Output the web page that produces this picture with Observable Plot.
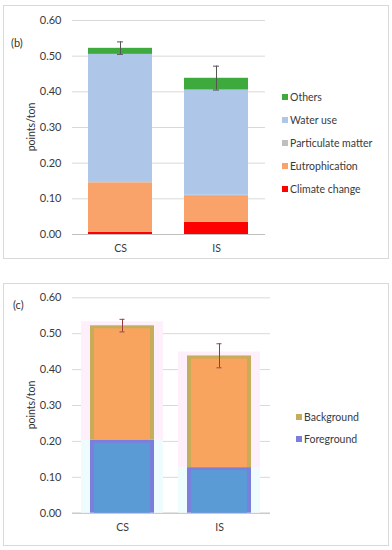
<!DOCTYPE html>
<html>
<head>
<meta charset="utf-8">
<script src="https://cdn.jsdelivr.net/npm/d3@7"></script>
<script src="https://cdn.jsdelivr.net/npm/@observablehq/plot@0.6"></script>
<style>
  html, body { margin: 0; padding: 0; background: #fff; }
  #wrap { position: relative; width: 392px; height: 550px; font-family: Lato, "Open Sans", sans-serif; color: #404040; overflow: hidden; }
  .box { position: absolute; border: 1px solid #d9d9d9; box-sizing: border-box; }
  .plot { position: absolute; left: 0; }
  .tag { position: absolute; font-size: 11px; color: #333; }
  .ylab { position: absolute; font-size: 10.5px; color: #333; transform: translate(-50%, -50%) rotate(-90deg); white-space: nowrap; }
  .legend { position: absolute; font-size: 10.5px; color: #3a3a3a; }
  .legend div { position: absolute; white-space: nowrap; line-height: 12px; }
  .legend span { display: inline-block; width: 6px; height: 6px; margin-right: 2px; vertical-align: 1px; }
</style>
</head>
<body>
<div id="wrap">
  <div class="box" style="left:3px;top:5px;width:386px;height:254px"></div>
  <div class="box" style="left:3px;top:283px;width:386px;height:263px"></div>
  <div id="pb" class="plot" style="top:0px"></div>
  <div id="pc" class="plot" style="top:270px"></div>
  <div class="tag" style="left:11px;top:36px">(b)</div>
  <div class="tag" style="left:13px;top:298px">(c)</div>
  <div class="ylab" style="left:31px;top:127px">points/ton</div>
  <div class="ylab" style="left:31px;top:405px">points/ton</div>
  <div id="legb" class="legend" style="left:282px;top:0px"></div>
  <div id="legc" class="legend" style="left:296px;top:0px"></div>
</div>
<script>
// ---- data ----
const categories = ["CS", "IS"];
// panel (b): impact categories, points/ton
const impactSeries = ["Climate change", "Eutrophication", "Particulate matter", "Water use", "Others"];
const impactColors = ["#ff0000", "#f9a36b", "#bfbfbf", "#aec6e8", "#3eaa3e"];
const climateChange = [0.006, 0.034];
const eutrophication = [0.139, 0.075];
const particulateMatter = [0.001, 0.001];
const waterUse = [0.359, 0.295];
const others = [0.017, 0.033];
const errLowB = [0.505, 0.405];
const errHighB = [0.540, 0.472];
// panel (c): foreground / background
const originSeries = ["Foreground", "Background"];
const originEdge = ["#7b7fdc", "#c5ad5c"];
const originFill = ["#5b9bd5", "#f8a35e"];
const originHalo = ["#effcfd", "#fdf0fb"];
const foregroundVals = [0.203, 0.127];
const backgroundVals = [0.319, 0.311];
const errLowC = [0.505, 0.405];
const errHighC = [0.540, 0.472];
const yTicks = [0, 0.1, 0.2, 0.3, 0.4, 0.5, 0.6];

// ---- tables ----
const impactValues = [climateChange, eutrophication, particulateMatter, waterUse, others];
const rowsB = [];
categories.forEach((c, i) => impactSeries.forEach((s, j) => rowsB.push({cat: c, series: s, value: impactValues[j][i]})));
const errB = categories.map((c, i) => ({cat: c, lo: errLowB[i], hi: errHighB[i]}));
const originValues = [foregroundVals, backgroundVals];
const rowsC = [];
categories.forEach((c, i) => originSeries.forEach((s, j) => rowsC.push({cat: c, series: s, value: originValues[j][i],
  edge: originEdge[j], fill: originFill[j], halo: originHalo[j]})));
const errC = categories.map((c, i) => ({cat: c, lo: errLowC[i], hi: errHighC[i]}));

const font = "Lato, 'Open Sans', sans-serif";

function axes() {
  return [
    Plot.gridY(yTicks, {stroke: "#d9d9d9", strokeOpacity: 1}),
    Plot.ruleY([0], {stroke: "#c0c0c0"}),
    Plot.axisY(yTicks, {tickFormat: d3.format(".2f"), tickSize: 0, tickPadding: 11, fontSize: 11, fill: "#3a3a3a", label: null}),
    Plot.axisX({tickSize: 0, tickPadding: 10, fontSize: 10.5, fill: "#3a3a3a", label: null})
  ];
}

// ---- panel (b) ----
const pb = Plot.plot({
  width: 392, height: 260,
  marginTop: 20, marginBottom: 26, marginLeft: 72, marginRight: 127,
  style: {fontFamily: font, background: "transparent", color: "#404040"},
  x: {domain: categories, paddingInner: 0.333, paddingOuter: 0.17},
  y: {domain: [0, 0.6]},
  color: {domain: impactSeries, range: impactColors},
  marks: [
    ...axes(),
    Plot.barY(rowsB, Plot.stackY({x: "cat", y: "value", fill: "series", order: impactSeries})),
    Plot.ruleX(errB, {x: "cat", y1: "lo", y2: "hi", stroke: "#555", strokeWidth: 1}),
    Plot.tickY(errB, {x: "cat", y: "lo", stroke: "#555", insetLeft: 29, insetRight: 29}),
    Plot.tickY(errB, {x: "cat", y: "hi", stroke: "#555", insetLeft: 29, insetRight: 29})
  ]
});
document.getElementById("pb").appendChild(pb);

// ---- panel (c) ----
const pc = Plot.plot({
  width: 392, height: 270,
  marginTop: 27.3, marginBottom: 27.3, marginLeft: 72, marginRight: 122,
  style: {fontFamily: font, background: "transparent", color: "#404040"},
  x: {domain: categories, paddingInner: 0.337, paddingOuter: 0.179},
  y: {domain: [0, 0.6]},
  marks: [
    ...axes(),
    Plot.barY(rowsC, Plot.stackY({x: "cat", y: "value", fill: "halo", order: originSeries, z: "series",
      insetLeft: -9, insetRight: -9, insetTop: -4})),
    Plot.barY(rowsC, Plot.stackY({x: "cat", y: "value", fill: "edge", order: originSeries, z: "series"})),
    Plot.barY(rowsC, Plot.stackY({x: "cat", y: "value", fill: "fill", order: originSeries, z: "series",
      insetLeft: 4, insetRight: 4, insetTop: 3})),
    Plot.ruleX(errC, {x: "cat", y1: "lo", y2: "hi", stroke: "#9a3b3b", strokeWidth: 1}),
    Plot.tickY(errC, {x: "cat", y: "lo", stroke: "#8a4a4a", insetLeft: 29.5, insetRight: 29.5}),
    Plot.tickY(errC, {x: "cat", y: "hi", stroke: "#8a4a4a", insetLeft: 29.5, insetRight: 29.5})
  ]
});
document.getElementById("pc").appendChild(pc);

// ---- legends ----
const legB = document.getElementById("legb");
const legBOrder = ["Others", "Water use", "Particulate matter", "Eutrophication", "Climate change"];
const legBTop = [91, 114, 137, 160, 183];
legBOrder.forEach((s, k) => {
  const d = document.createElement("div");
  d.style.top = legBTop[k] + "px";
  d.innerHTML = `<span style="background:${impactColors[impactSeries.indexOf(s)]}"></span>${s}`;
  legB.appendChild(d);
});
const legC = document.getElementById("legc");
const legCOrder = ["Background", "Foreground"];
const legCTop = [411, 433];
legCOrder.forEach((s, k) => {
  const d = document.createElement("div");
  d.style.top = legCTop[k] + "px";
  d.innerHTML = `<span style="background:${originEdge[originSeries.indexOf(s)]}"></span>${s}`;
  legC.appendChild(d);
});
</script>
</body>
</html>
